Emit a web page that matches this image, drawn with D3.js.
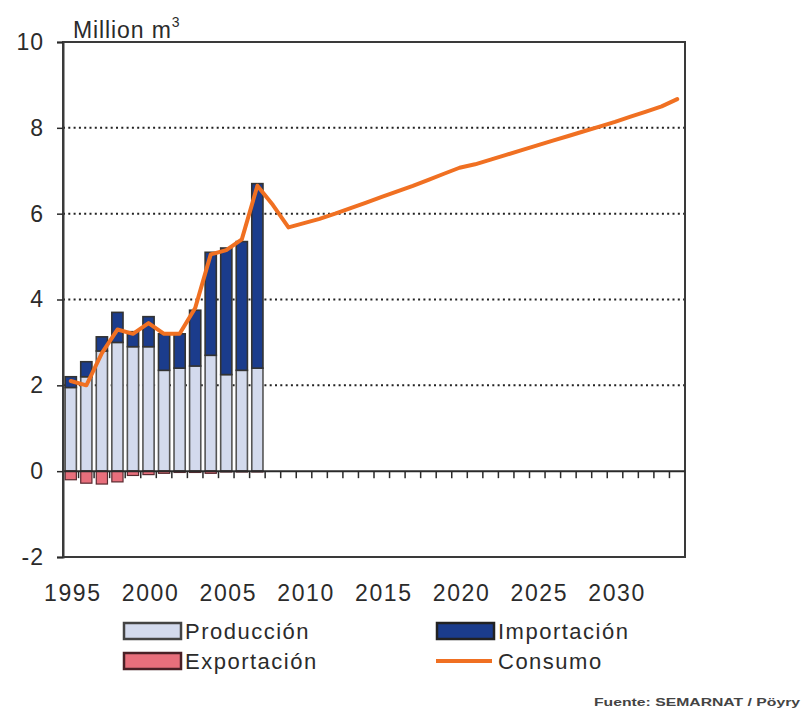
<!DOCTYPE html>
<html>
<head>
<meta charset="utf-8">
<script src="https://cdn.jsdelivr.net/npm/d3@7/dist/d3.min.js"></script>
<style>
  html, body { margin: 0; padding: 0; background: #fff; }
  svg { display: block; font-family: "Liberation Sans", Arial, sans-serif; }
</style>
</head>
<body>
<svg id="chart" width="808" height="709"></svg>
<script>
// ---------- data ----------
const years = d3.range(1995, 2035);           // categories 1995..2034
const histYears = d3.range(1995, 2008);       // 1995..2007
const produccion  = [1.95, 2.2, 2.8, 3.0, 2.9, 2.9, 2.35, 2.4, 2.45, 2.7, 2.25, 2.35, 2.4];
const importacion = [0.25, 0.35, 0.33, 0.7, 0.35, 0.7, 0.85, 0.8, 1.3, 2.4, 2.95, 3.0, 4.3];
const exportacion = [-0.2, -0.28, -0.3, -0.25, -0.1, -0.08, -0.05, -0.03, -0.03, -0.05, -0.02, -0.02, -0.02];
const consumo = [2.1, 2.0, 2.75, 3.3, 3.2, 3.45, 3.2, 3.2, 3.8, 5.05, 5.15, 5.4, 6.65,
                 6.2, 5.68, 5.78, 5.88, 6.0, 6.13, 6.26, 6.39, 6.52, 6.65, 6.79, 6.93,
                 7.07, 7.15, 7.26, 7.37, 7.48, 7.59, 7.7, 7.81, 7.92, 8.03, 8.14, 8.26,
                 8.38, 8.5, 8.67];
const yTicks = [-2, 0, 2, 4, 6, 8, 10];
const xTickLabels = ["1995", "2000", "2005", "2010", "2015", "2020", "2025", "2030"];
const legendLabels = ["Producción", "Importación", "Exportación", "Consumo"];
const yTitle = "Million m";
const source = "Fuente: SEMARNAT / Pöyry";

// ---------- setup ----------
const svg = d3.select("#chart");
const L = 63, R = 685, T = 42, B = 557;
const colProd = "#d3daed", colImp = "#1b3c8c", colExp = "#e86f7c", colCons = "#f07022";
const ink = "#2b2b2b";

const x = d3.scaleBand().domain(years).range([L, R]).paddingInner(0.28).paddingOuter(0.14);
const y = d3.scaleLinear().domain([-2, 10]).range([B, T]);

// gridlines (dotted)
svg.append("g").selectAll("line").data([2, 4, 6, 8, 10]).join("line")
  .attr("x1", L).attr("x2", R)
  .attr("y1", d => y(d)).attr("y2", d => y(d))
  .attr("stroke", "#222").attr("stroke-width", 2)
  .attr("stroke-dasharray", "2,3.3");

// bars
const hist = histYears.map((yr, i) => ({ yr, p: produccion[i], m: importacion[i], e: exportacion[i] }));
const bars = svg.append("g");
bars.selectAll("rect.prod").data(hist).join("rect")
  .attr("x", d => x(d.yr)).attr("width", x.bandwidth())
  .attr("y", d => y(d.p)).attr("height", d => y(0) - y(d.p))
  .attr("fill", colProd).attr("stroke", "#555").attr("stroke-width", 1.6);
bars.selectAll("rect.imp").data(hist).join("rect")
  .attr("x", d => x(d.yr)).attr("width", x.bandwidth())
  .attr("y", d => y(d.p + d.m)).attr("height", d => y(d.p) - y(d.p + d.m))
  .attr("fill", colImp).attr("stroke", "#333").attr("stroke-width", 1.6);
bars.selectAll("rect.exp").data(hist).join("rect")
  .attr("x", d => x(d.yr)).attr("width", x.bandwidth())
  .attr("y", y(0)).attr("height", d => y(d.e) - y(0))
  .attr("fill", colExp).attr("stroke", "#5a2a30").attr("stroke-width", 1.2);

// frame
svg.append("rect").attr("x", L).attr("y", T).attr("width", R - L).attr("height", B - T)
  .attr("fill", "none").attr("stroke", "#3a3a3a").attr("stroke-width", 2);

// zero line with year ticks
svg.append("line").attr("x1", L).attr("x2", R).attr("y1", y(0)).attr("y2", y(0))
  .attr("stroke", "#2a2a2a").attr("stroke-width", 2);
svg.append("g").selectAll("line").data(years.slice(1)).join("line")
  .attr("x1", d => x(d) - x.step() * x.paddingInner() / 2)
  .attr("x2", d => x(d) - x.step() * x.paddingInner() / 2)
  .attr("y1", y(0)).attr("y2", y(0) + 7)
  .attr("stroke", "#2a2a2a").attr("stroke-width", 1.5);

// y axis
const yAxis = d3.axisLeft(y).tickValues(yTicks).tickSize(6).tickPadding(13).tickFormat(d3.format("d"));
const gy = svg.append("g").attr("transform", `translate(${L},0)`).call(yAxis);
gy.select(".domain").attr("stroke", "#3a3a3a").attr("stroke-width", 2);
gy.selectAll(".tick line").attr("stroke", "#2a2a2a").attr("stroke-width", 1.5);
gy.selectAll(".tick text").attr("font-size", 23).attr("fill", ink)
  .attr("font-family", "Liberation Sans, Arial, sans-serif").attr("letter-spacing", 1)
  .text(d => d < 0 ? "-" + Math.abs(d) : d);

// x labels
const xAxis = d3.axisBottom(x).tickValues(xTickLabels.map(Number)).tickSize(0).tickPadding(0);
const gx = svg.append("g").attr("transform", `translate(0,${B + 28})`).call(xAxis);
gx.select(".domain").remove();
gx.selectAll(".tick text").attr("font-size", 23).attr("fill", ink)
  .attr("font-family", "Liberation Sans, Arial, sans-serif").attr("dy", "0.71em")
  .attr("letter-spacing", 1.6).attr("dx", 2);

// consumo line
const line = d3.line().x((d, i) => x(years[i]) + x.bandwidth() / 2).y(d => y(d));
svg.append("path").datum(consumo).attr("d", line)
  .attr("fill", "none").attr("stroke", colCons).attr("stroke-width", 4)
  .attr("stroke-linejoin", "round").attr("stroke-linecap", "round");

// y title
const tt = svg.append("text").attr("x", 73).attr("y", 38).attr("font-size", 23).attr("fill", ink)
  .attr("letter-spacing", 0.9);
tt.append("tspan").text(yTitle);
tt.append("tspan").attr("font-size", 14).attr("dy", -11).text("3");

// legend
const leg = svg.append("g").attr("font-size", 22).attr("fill", ink).attr("letter-spacing", 1.5);
const items = [
  { label: legendLabels[0], type: "rect", fill: colProd, stroke: "#444", x: 123, y: 631 },
  { label: legendLabels[1], type: "rect", fill: colImp, stroke: "#222", x: 436, y: 631 },
  { label: legendLabels[2], type: "rect", fill: colExp, stroke: "#4a2026", x: 123, y: 661 },
  { label: legendLabels[3], type: "line", fill: colCons, stroke: colCons, x: 436, y: 661 }
];
items.forEach(it => {
  if (it.type === "rect") {
    leg.append("rect").attr("x", it.x + 1).attr("y", it.y - 8).attr("width", 57).attr("height", 16)
      .attr("fill", it.fill).attr("stroke", it.stroke).attr("stroke-width", 2.5);
  } else {
    leg.append("line").attr("x1", it.x).attr("x2", it.x + 56).attr("y1", it.y).attr("y2", it.y)
      .attr("stroke", it.fill).attr("stroke-width", 4);
  }
  leg.append("text").attr("x", it.x + 62).attr("y", it.y).attr("dy", "0.36em").text(it.label);
});

// source
svg.append("text").attr("x", 800).attr("y", 706).attr("text-anchor", "end")
  .attr("font-size", 10).attr("font-weight", "bold").attr("fill", "#444")
  .attr("textLength", 206).attr("lengthAdjust", "spacingAndGlyphs").text(source);
</script>
</body>
</html>
